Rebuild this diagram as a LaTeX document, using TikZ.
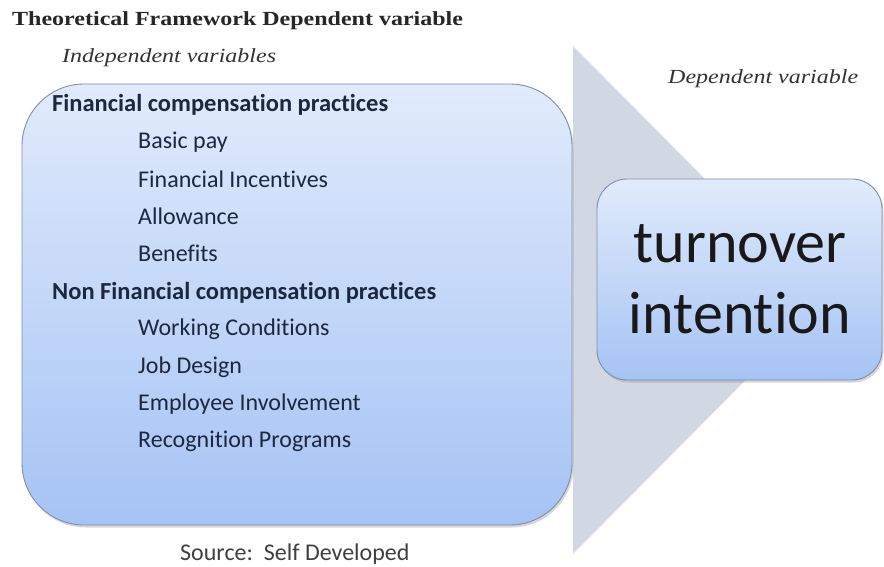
\documentclass[tikz,border=0pt]{standalone}
\usepackage{fontspec}
\setmainfont[Ligatures=NoCommon]{Carlito}
\newfontfamily\serifface[FakeStretch=1.2]{Liberation Serif}
\usetikzlibrary{shadows}
\definecolor{boxtop}{HTML}{E1EBFC}
\definecolor{boxbot}{HTML}{A5C3F4}
\definecolor{boxline}{HTML}{7F8FA8}
\definecolor{chevron}{HTML}{D2D8E3}
\definecolor{itemtext}{HTML}{1C2740}
\tikzset{
  x=1pt, y=-1pt,
  heading/.style={anchor=base west, font=\fontsize{24.5}{28}\selectfont\bfseries, text=itemtext, inner sep=0pt},
  item/.style={anchor=base west, font=\fontsize{24}{28}\selectfont, text=itemtext, inner sep=0pt},
  caption/.style={anchor=base west, inner sep=0pt},
  panel/.style={draw=boxline, line width=0.9pt, top color=boxtop, bottom color=boxbot,
    drop shadow={shadow xshift=1.5pt, shadow yshift=-2.5pt, fill=black!45, opacity=0.35}},
}
\begin{document}
\begin{tikzpicture}
\useasboundingbox (0,0) rectangle (884,567);
\fill[white] (0,0) rectangle (884,567);

% broad grey arrow behind both boxes
\fill[chevron] (573,46) -- (825,300) -- (573,554) -- cycle;

% headings above the panels
\node[caption, font=\serifface\fontsize{20}{22}\selectfont\bfseries, text=black!85] (title) at (12,26) {Theoretical Framework Dependent variable};
\node[caption, font=\serifface\fontsize{20}{22}\selectfont\itshape, text=black!80] (indep) at (62,63) {Independent variables};
\node[caption, font=\serifface\fontsize{20}{22}\selectfont\itshape, text=black!80] (dep) at (668,84) {Dependent variable};

% panel of independent variables
\path[panel, rounded corners=62pt] (22,84) rectangle (572,525);

\node[heading] (fin) at (52,112) {Financial compensation practices};
\node[item] (f1) at (138,149) {Basic pay};
\node[item] (f2) at (138,187) {Financial Incentives};
\node[item] (f3) at (138,224) {Allowance};
\node[item] (f4) at (138,261) {Benefits};
\node[heading] (nonfin) at (52,299) {Non Financial compensation practices};
\node[item] (n1) at (138,335) {Working Conditions};
\node[item] (n2) at (138,373) {Job Design};
\node[item] (n3) at (138,410) {Employee Involvement};
\node[item] (n4) at (138,447) {Recognition Programs};

% dependent variable box
\path[panel, rounded corners=30pt] (597,179) rectangle (882,380);
\node[anchor=base, inner sep=0pt, font=\fontsize{60}{71}\selectfont, text=black!90] (turn) at (740,262) {turnover};
\node[anchor=base, inner sep=0pt, font=\fontsize{60}{71}\selectfont, text=black!90] (intent) at (740,333) {intention};

\node[caption, font=\fontsize{24}{28}\selectfont, text=black!75] (src) at (180,560) {Source:\ \ Self Developed};
\end{tikzpicture}
\end{document}
